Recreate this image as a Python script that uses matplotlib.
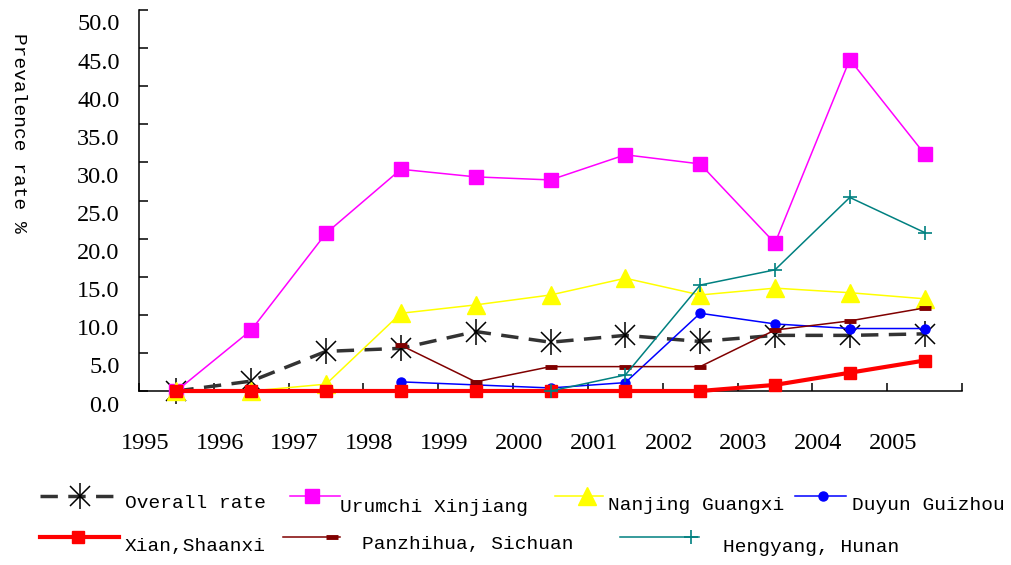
import numpy as np
import matplotlib.pyplot as plt
from matplotlib.lines import Line2D
from matplotlib.transforms import ScaledTranslation

years = ['1995', '1996', '1997', '1998', '1999', '2000',
         '2001', '2002', '2003', '2004', '2005']
nan = np.nan

overall = [0.0, 1.3, 5.2, 5.6, 7.8, 6.4, 7.3, 6.5, 7.3, 7.3, 7.5]
urumchi = [0.0, 8.0, 20.7, 29.1, 28.1, 27.7, 31.0, 29.8, 19.4, 43.5, 31.1]
nanjing = [0.0, 0.0, 0.9, 10.2, 11.3, 12.6, 14.8, 12.6, 13.5, 12.9, 12.1]
duyun = [nan, nan, nan, 1.2, 0.8, 0.4, 1.1, 10.2, 8.8, 8.2, 8.2]
xian = [0.0, 0.0, 0.0, 0.0, 0.0, 0.0, 0.0, 0.0, 0.8, 2.4, 4.0]
panzhihua = [nan, nan, nan, 6.0, 1.2, 3.2, 3.2, 3.2, 8.0, 9.2, 10.9]
hengyang = [nan, nan, nan, nan, nan, 0.0, 2.1, 13.9, 15.9, 25.4, 20.8]

W, H = 1011, 565
fig = plt.figure(figsize=(W / 100, H / 100), dpi=100)
ax = fig.add_axes([139 / W, 1 - 391 / H, (962 - 139) / W, (391 - 10) / H])

x = np.arange(len(years))

st_overall = dict(color='#333333', lw=2.5, dashes=(5, 3))
st_uru = dict(color='#FF00FF', lw=1.1, marker='s', ms=10.5)
st_nan = dict(color='#FFFF00', lw=1.1, marker='^', ms=13)
st_duy = dict(color='#0000FF', lw=1.1, marker='o', ms=6.5)
st_xian = dict(color='#FF0000', lw=3.0, marker='s', ms=8.5)
st_pan = dict(color='#800000', lw=1.1, marker='_', ms=9, mew=3.5)
st_hen = dict(color='#008080', lw=1.1, marker='+', ms=10, mew=1.2)

ax.plot(x, overall, clip_on=False, **st_overall)
ax.plot(x, overall, ls='none', marker='x', ms=14, mew=1.1, color='black', clip_on=False)
ax.plot(x, overall, ls='none', marker='|', ms=19, mew=1.1, color='black', clip_on=False)
ax.plot(x, urumchi, clip_on=False, **st_uru)
ax.plot(x, nanjing, clip_on=False, **st_nan)
ax.plot(x, duyun, clip_on=False, **st_duy)
ax.plot(x, xian, clip_on=False, **st_xian)
ax.plot(x, panzhihua, clip_on=False, **st_pan)
ax.plot(x, hengyang, clip_on=False, **st_hen)

ax.set_xlim(-0.5, len(years) - 0.5)
ax.set_ylim(0, 50)
for s in ['top', 'right']:
    ax.spines[s].set_visible(False)
for s in ['left', 'bottom']:
    ax.spines[s].set_linewidth(1.1)
    ax.spines[s].set_zorder(0.5)

ax.set_yticks(np.arange(0, 51, 5))
ax.set_yticklabels(['%.1f' % v for v in np.arange(0, 51, 5)],
                   fontfamily='Liberation Serif', fontsize=17.5)
ax.tick_params(axis='y', direction='in', length=6.5, width=1.1, pad=14)
off = ScaledTranslation(0, -0.125, fig.dpi_scale_trans)
for lab in ax.get_yticklabels():
    lab.set_transform(lab.get_transform() + off)

ax.set_xticks(np.arange(len(years) + 1) - 0.5)
ax.set_xticklabels([])
ax.tick_params(axis='x', which='major', direction='in', length=6, width=1.1)
ax.set_xticks(x - 0.42, minor=True)
ax.set_xticklabels(years, minor=True, fontfamily='Liberation Serif', fontsize=17.5)
ax.tick_params(axis='x', which='minor', length=0, pad=30)

fig.text(18 / W, 1 - 133 / H, 'Prevalence rate %', rotation=270,
         ha='center', va='center', fontfamily='Liberation Mono', fontsize=14)

# legend, drawn by hand to follow the original layout
def px(xp, yp):
    return xp / W, 1 - yp / H

def handle(x0, x1, y, xm, style, extra=()):
    xs, ys = px(np.array([x0, x1]), np.array([y, y]))
    st = {k: v for k, v in style.items() if k not in ('marker', 'ms', 'mew')}
    fig.add_artist(Line2D(xs, ys, transform=fig.transFigure, **st))
    if 'marker' in style:
        mx, my = px(xm, y)
        fig.add_artist(Line2D([mx], [my], transform=fig.transFigure, ls='none',
                              color=style['color'], marker=style['marker'],
                              ms=style['ms'], mew=style.get('mew', 1)))
    for mk, ms in extra:
        mx, my = px(xm, y)
        fig.add_artist(Line2D([mx], [my], transform=fig.transFigure, ls='none',
                              color='black', marker=mk, ms=ms, mew=1.1))

def label(xp, yp, txt):
    fx, fy = px(xp, yp)
    fig.text(fx, fy, txt, ha='left', va='center',
             fontfamily='Liberation Mono', fontsize=14)

handle(40, 120, 496, 80, st_overall, extra=[('x', 14), ('|', 19)])
label(125, 503, 'Overall rate')
handle(290, 340, 496, 312, st_uru)
label(340, 507, 'Urumchi Xinjiang')
handle(555, 603, 496, 587, st_nan)
label(608, 505, 'Nanjing Guangxi')
handle(795, 846, 496, 823, st_duy)
label(852, 505, 'Duyun Guizhou')

handle(40, 119, 537, 78, st_xian)
label(125, 547, 'Xian,Shaanxi')
handle(283, 340, 537, 332, st_pan)
label(362, 545, 'Panzhihua, Sichuan')
handle(620, 699, 537, 691, st_hen)
label(723, 548, 'Hengyang, Hunan')

fig.savefig('out.png', dpi=100)
